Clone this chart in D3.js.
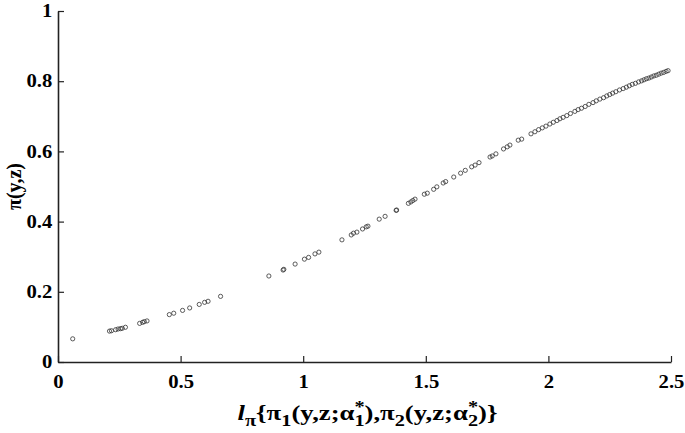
<!DOCTYPE html>
<html>
<head>
<meta charset="utf-8">
<script src="https://cdn.jsdelivr.net/npm/d3@7"></script>
<style>
  body { margin: 0; background: #fff; }
  #chart text { font-family: "Liberation Serif", "Times New Roman", serif; font-weight: bold; fill: #000; }
</style>
</head>
<body>
<div id="chart"></div>
<script>
// values
const xValues = [
  0.06,
  0.21, 0.218, 0.235, 0.245, 0.255, 0.262, 0.275,
  0.333, 0.345, 0.352, 0.363,
  0.454, 0.472, 0.508, 0.537,
  0.576, 0.598, 0.612, 0.663,
  0.86, 0.918, 0.921, 0.967,
  1.005, 1.022, 1.048, 1.064,
  1.158, 1.196, 1.205, 1.219,
  1.242, 1.257, 1.264, 1.31, 1.334,
  1.379, 1.381, 1.429, 1.439, 1.447, 1.456,
  1.494, 1.506, 1.532, 1.545, 1.571, 1.581,
  1.614, 1.642, 1.661, 1.687, 1.701, 1.717,
  1.762, 1.771, 1.786, 1.817, 1.832, 1.843,
  1.877, 1.891, 1.929,
  1.945, 1.96, 1.975, 1.99, 2.006, 2.02, 2.035, 2.047, 2.06, 2.075, 2.09, 2.108,
  2.121, 2.135, 2.15, 2.165, 2.182, 2.195, 2.21, 2.225, 2.238, 2.25, 2.262, 2.275,
  2.29, 2.305, 2.318, 2.33, 2.342, 2.355, 2.368, 2.38, 2.39, 2.4, 2.41, 2.42,
  2.43, 2.44, 2.45, 2.46, 2.47, 2.48, 2.488
];
const yValues = [
  0.066,
  0.088, 0.089, 0.092, 0.094, 0.095, 0.096, 0.099,
  0.110, 0.113, 0.115, 0.117,
  0.135, 0.139, 0.147, 0.154,
  0.164, 0.170, 0.173, 0.187,
  0.245, 0.262, 0.264, 0.279,
  0.293, 0.298, 0.308, 0.313,
  0.348, 0.362, 0.367, 0.370,
  0.379, 0.385, 0.387, 0.407, 0.415,
  0.432, 0.433, 0.452, 0.456, 0.460, 0.464,
  0.478, 0.481, 0.492, 0.499, 0.510, 0.514,
  0.527, 0.538, 0.546, 0.556, 0.561, 0.568,
  0.584, 0.587, 0.593, 0.607, 0.613, 0.618,
  0.632, 0.635, 0.650,
  0.656, 0.662, 0.667, 0.672, 0.678, 0.683, 0.688, 0.693, 0.697, 0.702, 0.708, 0.714,
  0.719, 0.723, 0.728, 0.734, 0.739, 0.744, 0.749, 0.753, 0.758, 0.762, 0.766, 0.770,
  0.775, 0.779, 0.783, 0.787, 0.791, 0.794, 0.798, 0.801, 0.804, 0.807, 0.809, 0.812,
  0.815, 0.817, 0.820, 0.823, 0.825, 0.828, 0.830
];
const xTicks = [0, 0.5, 1, 1.5, 2, 2.5];
const yTicks = [0, 0.2, 0.4, 0.6, 0.8, 1];

class ScatterChart {
  constructor() {
    this.margin = { top: 11, right: 14, bottom: 71, left: 58 };
    this.width = 685 - this.margin.left - this.margin.right;
    this.height = 433 - this.margin.top - this.margin.bottom;
    this.data = xValues.map((x, i) => ({ x: x, y: yValues[i] }));
    this.initialiseChart();
  }

  initialiseChart() {
    this.xScale = d3.scaleLinear().domain([0, 2.5]).range([0, this.width]);
    this.yScale = d3.scaleLinear().domain([0, 1]).range([this.height, 0]);

    const svg = d3.select('#chart')
      .append('svg')
      .attr('width', 685)
      .attr('height', 433)
      .append('g')
      .attr('transform', `translate(${this.margin.left}, ${this.margin.top})`);

    // axes: ticks point inwards, labels outside
    const xAxis = svg.append('g')
      .attr('transform', `translate(0, ${this.height})`)
      .call(d3.axisBottom(this.xScale).tickValues(xTicks).tickSizeInner(-6).tickSizeOuter(0)
        .tickPadding(13).tickFormat(d3.format('~g')));
    const yAxis = svg.append('g')
      .call(d3.axisLeft(this.yScale).tickValues(yTicks).tickSizeInner(-6).tickSizeOuter(0)
        .tickPadding(5).tickFormat(d3.format('~g')));

    [xAxis, yAxis].forEach(ax => {
      ax.select('.domain').attr('stroke', '#222').attr('stroke-width', 1.6);
      ax.selectAll('.tick line').attr('stroke', '#222').attr('stroke-width', 1.2);
      // the reference glyphs are a bit wider than tall
      ax.selectAll('.tick text').style('font-size', '18px').attr('transform', 'scale(1.15,1)');
    });
    xAxis.selectAll('.tick text').attr('dy', '0.71em');

    // points
    svg.append('g')
      .selectAll('circle')
      .data(this.data)
      .join('circle')
      .attr('cx', d => this.xScale(d.x))
      .attr('cy', d => this.yScale(d.y))
      .attr('r', 2.1)
      .attr('fill', 'none')
      .attr('stroke', '#333')
      .attr('stroke-width', 0.8);

    // y axis title
    svg.append('text')
      .attr('transform', `translate(${21 - this.margin.left}, ${this.height / 2}) rotate(-90)`)
      .attr('text-anchor', 'middle')
      .style('font-size', '20px')
      .text('π(y,z)');

    // x axis title with sub/superscripts
    const parts = [
      { t: 'l', italic: true },
      { t: 'π', sub: true, dy: 6 },
      { t: '{π', dy: -6 },
      { t: '1', sub: true, dy: 6 },
      { t: '(y,z;α', dy: -6 },
      { t: '*', sub: true, dy: -8 },
      { t: '1', sub: true, dx: -8, dy: 14 },
      { t: '),π', dy: -6 },
      { t: '2', sub: true, dy: 6 },
      { t: '(y,z;α', dy: -6 },
      { t: '*', sub: true, dy: -8 },
      { t: '2', sub: true, dx: -8, dy: 14 },
      { t: ')}', dy: -6 }
    ];
    const titleG = svg.append('g');
    const xTitle = titleG.append('text')
      .attr('x', 0)
      .attr('y', 0)
      .attr('text-anchor', 'middle')
      .style('font-size', '21px');
    parts.forEach(p => {
      const ts = xTitle.append('tspan').text(p.t);
      if (p.italic) ts.style('font-style', 'italic');
      if (p.sub) ts.style('font-size', '16px');
      if (p.dy) ts.attr('dy', p.dy);
      if (p.dx) ts.attr('dx', p.dx);
    });
    // stretch the title to the span it takes in the reference
    const box = xTitle.node().getBBox();
    const sx = 260 / box.width;
    titleG.attr('transform',
      `translate(${this.width / 2 + 3 - (box.x + box.width / 2) * sx}, ${this.height + 58}) scale(${sx},1)`);
  }
}

new ScatterChart();
</script>
</body>
</html>
